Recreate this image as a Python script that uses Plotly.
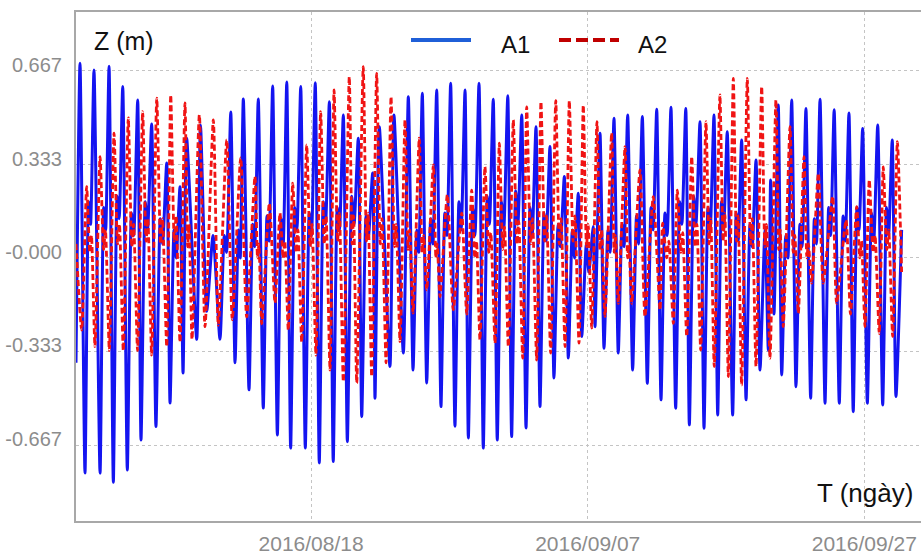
import pandas as pd
import plotly.graph_objects as go

START = pd.Timestamp("2016-08-01")

# ---- A1: daily turning points (days since 2016-08-01, metres) ----
a1_first = [0.00, -0.374]
a1_last = [59.70, 0.10]
a1_high_day = [0.29, 1.30, 2.39, 3.38, 4.46, 5.47, 6.56, 7.52, 8.00, 9.00,
               9.91, 11.19, 12.10, 13.18, 14.22, 15.24, 16.25, 17.30, 18.32, 19.33,
               20.41, 21.45, 21.93, 22.99, 24.03, 25.04, 26.08, 27.09, 28.13, 29.14,
               30.17, 31.22, 32.23, 33.26, 34.27, 35.31, 36.32, 37.40, 37.89, 38.90,
               39.89, 40.95, 41.99, 43.02, 44.09, 45.12, 46.13, 47.09, 48.13, 49.17,
               49.82, 50.23, 50.78, 51.75, 52.78, 53.80, 54.82, 55.89, 56.88, 57.97,
               59.02]
a1_high_z = [0.694, 0.670, 0.684, 0.611, 0.563, 0.478, 0.339, 0.254, 0.427, 0.474,
             0.08, 0.52, 0.567, 0.567, 0.613, 0.627, 0.611, 0.625, 0.557, 0.51,
             0.427, 0.303, 0.468, 0.51, 0.575, 0.587, 0.599, 0.623, 0.599, 0.623,
             0.566, 0.578, 0.51, 0.468, 0.397, 0.29, 0.231, 0.112, 0.445, 0.498,
             0.51, 0.504, 0.53, 0.537, 0.533, 0.486, 0.51, 0.45, 0.421, 0.349,
             0.10, 0.278, 0.545, 0.563, 0.533, 0.566, 0.528, 0.517, 0.462, 0.474,
             0.421]
a1_low_day = [0.65, 1.74, 2.70, 3.71, 4.70, 5.78, 6.80, 7.74, 8.73, 9.45,
              10.41, 11.50, 12.51, 13.54, 14.56, 15.52, 16.58, 17.59, 18.60, 19.62,
              20.66, 21.62, 22.70, 23.67, 24.37, 25.36, 26.39, 27.40, 28.37, 29.45,
              30.46, 31.50, 32.54, 33.55, 34.56, 35.60, 36.57, 37.53, 38.18, 39.21,
              40.25, 41.31, 42.30, 43.36, 44.35, 45.41, 46.40, 47.48, 48.45, 49.46,
              50.06, 50.47, 51.03, 52.06, 53.12, 54.16, 55.19, 56.20, 57.22, 58.33,
              59.29]
a1_low_z = [-0.767, -0.767, -0.80, -0.756, -0.649, -0.601, -0.517, -0.41, -0.29, -0.19,
            -0.29, -0.374, -0.47, -0.535, -0.631, -0.678, -0.678, -0.731, -0.726, -0.655,
            -0.566, -0.50, -0.387, -0.339, -0.40, -0.446, -0.53, -0.60, -0.642, -0.678,
            -0.649, -0.637, -0.606, -0.53, -0.428, -0.357, -0.28, -0.245, -0.322, -0.339,
            -0.40, -0.447, -0.506, -0.536, -0.595, -0.607, -0.56, -0.56, -0.506, -0.40,
            -0.33, -0.2, -0.417, -0.459, -0.50, -0.518, -0.518, -0.548, -0.518, -0.524,
            -0.494]
# small stand on the flood between a low and the next high (None = no stand)
a1_stand_hi = [0.20, 0.18, 0.22, 0.16, 0.20, 0.14, 0.10, None, None, None,
               0.08, 0.10, 0.12, 0.15, 0.14, 0.18, 0.16, 0.20, 0.18, 0.22,
               0.15, None, None, None, 0.10, 0.14, 0.16, 0.20, 0.18, 0.22,
               0.20, 0.24, 0.18, 0.16, 0.12, 0.10, 0.05, None, 0.10, 0.12,
               0.15, 0.18, 0.16, 0.20, 0.22, 0.18, 0.20, 0.16, 0.12, None,
               None, None, 0.08, 0.12, 0.14, 0.18, 0.15, 0.18, 0.16, 0.18]
a1_stand_lo = [0.12, 0.10, 0.14, 0.08, 0.10, 0.05, 0.0, None, None, None,
               0.02, 0.0, 0.04, 0.06, 0.05, 0.10, 0.08, 0.12, 0.10, 0.12,
               0.08, None, None, None, 0.02, 0.05, 0.08, 0.10, 0.08, 0.12,
               0.10, 0.12, 0.08, 0.06, 0.04, 0.0, -0.05, None, 0.02, 0.04,
               0.05, 0.10, 0.08, 0.12, 0.12, 0.10, 0.10, 0.06, 0.04, None,
               None, None, 0.0, 0.04, 0.05, 0.08, 0.06, 0.10, 0.06, 0.08]

# ---- A2: daily turning points ----
a2_first = [0.00, 0.05]
a2_last = [59.70, -0.05]
a2_low_day = [0.41, 1.37, 2.41, 3.42, 4.45, 5.47, 6.56, 7.52, 8.39, 9.33,
              10.29, 11.30, 12.34, 13.43, 14.39, 15.35, 16.32, 17.35, 18.37, 19.33,
              20.30, 21.38, 22.42, 23.43, 24.37, 25.36, 26.32, 27.28, 28.25, 29.21,
              30.30, 31.26, 32.30, 33.31, 34.32, 35.36, 36.37, 37.29, 38.25, 39.21,
              40.18, 41.14, 42.23, 43.19, 44.16, 45.17, 46.15, 47.17, 48.13, 49.17,
              50.18, 51.14, 52.23, 53.19, 54.03, 55.00, 56.00, 57.05, 58.08, 59.05]
a2_low_z = [-0.257, -0.316, -0.33, -0.33, -0.33, -0.346, -0.316, -0.30, -0.29, -0.245,
            -0.24, -0.22, -0.21, -0.235, -0.16, -0.257, -0.30, -0.346, -0.40, -0.441,
            -0.446, -0.423, -0.374, -0.298, -0.197, -0.114, -0.138, -0.185, -0.2, -0.292,
            -0.304, -0.316, -0.357, -0.364, -0.339, -0.316, -0.304, -0.25, -0.209, -0.162,
            -0.162, -0.209, -0.185, -0.233, -0.28, -0.328, -0.387, -0.423, -0.453, -0.387,
            -0.358, -0.245, -0.197, -0.09, -0.09, -0.162, -0.2, -0.245, -0.27, -0.28]
a2_high_day = [0.77, 1.74, 2.75, 3.78, 4.82, 5.84, 6.85, 7.88, 8.92, 9.93,
               10.90, 11.91, 12.94, 13.98, 14.75, 15.67, 16.68, 17.69, 18.66, 19.76,
               20.77, 21.74, 22.78, 23.79, 24.82, 25.84, 26.85, 27.89, 28.61, 29.57,
               30.61, 31.62, 32.59, 33.62, 34.69, 35.67, 36.68, 37.67, 38.73, 39.70,
               40.78, 41.74, 42.42, 43.48, 44.52, 45.55, 46.56, 47.53, 48.54, 49.58,
               50.61, 51.63, 52.64, 53.68, 54.71, 55.68, 56.45, 57.36, 58.37, 59.39]
a2_high_z = [0.254, 0.361, 0.445, 0.499, 0.522, 0.570, 0.581, 0.553, 0.51, 0.492,
             0.421, 0.357, 0.29, 0.195, 0.16, 0.267, 0.403, 0.522, 0.599, 0.646,
             0.682, 0.658, 0.575, 0.492, 0.427, 0.332, 0.225, 0.16, 0.242, 0.325,
             0.409, 0.492, 0.539, 0.557, 0.561, 0.561, 0.545, 0.486, 0.445, 0.397,
             0.314, 0.219, 0.124, 0.242, 0.361, 0.486, 0.581, 0.64, 0.64, 0.611,
             0.563, 0.468, 0.361, 0.302, 0.219, 0.135, 0.183, 0.278, 0.325, 0.415]
# small stand on the ebb between a high and the next low (None = no stand)
a2_stand_lo = [0.02, 0.03, 0.05, 0.04, 0.06, 0.05, 0.06, 0.04, None, None,
               None, None, 0.0, None, 0.0, 0.02, 0.04, 0.05, 0.06, 0.05,
               0.06, 0.05, 0.04, 0.03, 0.02, 0.0, None, None, 0.0, 0.02,
               0.03, 0.05, 0.05, 0.06, 0.05, 0.06, 0.04, 0.03, 0.02, 0.0,
               None, None, 0.0, 0.02, 0.04, 0.05, 0.06, 0.06, 0.05, 0.04,
               0.03, 0.02, 0.0, None, None, None, 0.0, 0.02, 0.03]
a2_stand_hi = [0.08, 0.10, 0.12, 0.12, 0.14, 0.14, 0.15, 0.12, None, None,
               None, None, 0.05, None, 0.06, 0.10, 0.12, 0.15, 0.16, 0.15,
               0.16, 0.14, 0.12, 0.10, 0.08, 0.05, None, None, 0.06, 0.09,
               0.11, 0.13, 0.14, 0.15, 0.14, 0.15, 0.12, 0.10, 0.08, 0.05,
               None, None, 0.06, 0.09, 0.12, 0.14, 0.16, 0.15, 0.14, 0.12,
               0.10, 0.08, 0.05, None, None, None, 0.06, 0.08, 0.10]

y_ticks = [0.667, 0.333, 0.0, -0.333, -0.667]
y_tick_text = ["0.667", "0.333", "-0.000", "-0.333", "-0.667"]
x_ticks = ["2016-08-18", "2016-09-07", "2016-09-27"]
x_tick_text = ["2016/08/18", "2016/09/07", "2016/09/27"]


def a1_series():
    """High -> fast fall -> low -> flood with a small stand -> next high."""
    days, z = [a1_first[0]], [a1_first[1]]
    n = len(a1_high_day)
    for i in range(n):
        days += [a1_high_day[i], a1_low_day[i]]
        z += [a1_high_z[i], a1_low_z[i]]
        if i < n - 1 and a1_stand_hi[i] is not None:
            t0, t1 = a1_low_day[i], a1_high_day[i + 1]
            days += [t0 + 0.40 * (t1 - t0), t0 + 0.62 * (t1 - t0)]
            z += [a1_stand_hi[i], a1_stand_lo[i]]
    days.append(a1_last[0])
    z.append(a1_last[1])
    return days, z


def a2_series():
    """Low -> fast rise -> high -> ebb with a small stand -> next low."""
    days, z = [a2_first[0]], [a2_first[1]]
    n = len(a2_low_day)
    for i in range(n):
        days += [a2_low_day[i], a2_high_day[i]]
        z += [a2_low_z[i], a2_high_z[i]]
        if i < n - 1 and a2_stand_lo[i] is not None:
            t0, t1 = a2_high_day[i], a2_low_day[i + 1]
            days += [t0 + 0.38 * (t1 - t0), t0 + 0.58 * (t1 - t0)]
            z += [a2_stand_lo[i], a2_stand_hi[i]]
    days.append(a2_last[0])
    z.append(a2_last[1])
    return days, z


def to_time(days):
    return START + pd.to_timedelta(days, unit="D")


d1, z1 = a1_series()
d2, z2 = a2_series()

fig = go.Figure()
fig.add_trace(go.Scatter(
    x=to_time(d1), y=z1, mode="lines", name="A1",
    line=dict(color="#1414f0", width=3, shape="spline", smoothing=0.6),
))
fig.add_trace(go.Scatter(
    x=to_time(d2), y=z2, mode="lines", name="A2",
    line=dict(color="#f01414", width=2.8, dash="6px,3px", shape="spline", smoothing=0.6),
))

# plot frame is 76..921 px wide, 12..521 px tall
X0, X1, Y0, Y1 = 76, 921, 12, 521


def px(x):
    return (x - X0) / (X1 - X0)


def py(y):
    return 1 - (y - Y0) / (Y1 - Y0)


shapes = [
    dict(type="line", xref="paper", yref="paper", x0=px(411), x1=px(471), y0=py(40), y1=py(40),
         line=dict(color="#1f5fd8", width=4)),
    dict(type="line", xref="paper", yref="paper", x0=px(559), x1=px(619), y0=py(40), y1=py(40),
         line=dict(color="#c00000", width=4, dash="12px,5px")),
]

annotations = [
    dict(text="A1", xref="paper", yref="paper", x=px(499), y=py(44), xanchor="left",
         yanchor="middle", showarrow=False, font=dict(size=24, color="#111111")),
    dict(text="A2", xref="paper", yref="paper", x=px(636), y=py(44), xanchor="left",
         yanchor="middle", showarrow=False, font=dict(size=24, color="#111111")),
    dict(text="Z (m)", xref="paper", yref="paper", x=px(92), y=py(41), xanchor="left",
         yanchor="middle", showarrow=False, font=dict(size=25, color="#111111")),
    dict(text="T (ngày)", xref="paper", yref="paper", x=px(815), y=py(493), xanchor="left",
         yanchor="middle", showarrow=False, font=dict(size=26, color="#111111")),
]

fig.update_layout(
    width=921, height=554,
    margin=dict(l=X0, r=921 - X1, t=Y0, b=554 - Y1),
    paper_bgcolor="white", plot_bgcolor="white",
    showlegend=False,
    font=dict(family="Liberation Sans, Arial, sans-serif"),
    shapes=shapes,
    annotations=annotations,
)

fig.update_xaxes(
    type="date",
    range=[START, START + pd.Timedelta(days=61.1)],
    tickvals=x_ticks, ticktext=x_tick_text,
    tickfont=dict(size=21, color="#8c8c8c"),
    ticks="outside", ticklen=3, tickcolor="rgba(0,0,0,0)",
    showgrid=True, gridcolor="#c4c4c4", griddash="dot", gridwidth=1,
    showline=True, linecolor="#a8a8a8", linewidth=2, mirror=True,
    zeroline=False,
)
fig.update_yaxes(
    range=[-0.938, 0.877],
    tickvals=y_ticks, ticktext=y_tick_text,
    tickfont=dict(size=20, color="#8c8c8c"),
    ticklabelshift=-6, ticklabelstandoff=8,
    showgrid=True, gridcolor="#c4c4c4", griddash="dot", gridwidth=1,
    showline=True, linecolor="#a8a8a8", linewidth=2,
    zeroline=False,
)

fig.write_html("out.html")
